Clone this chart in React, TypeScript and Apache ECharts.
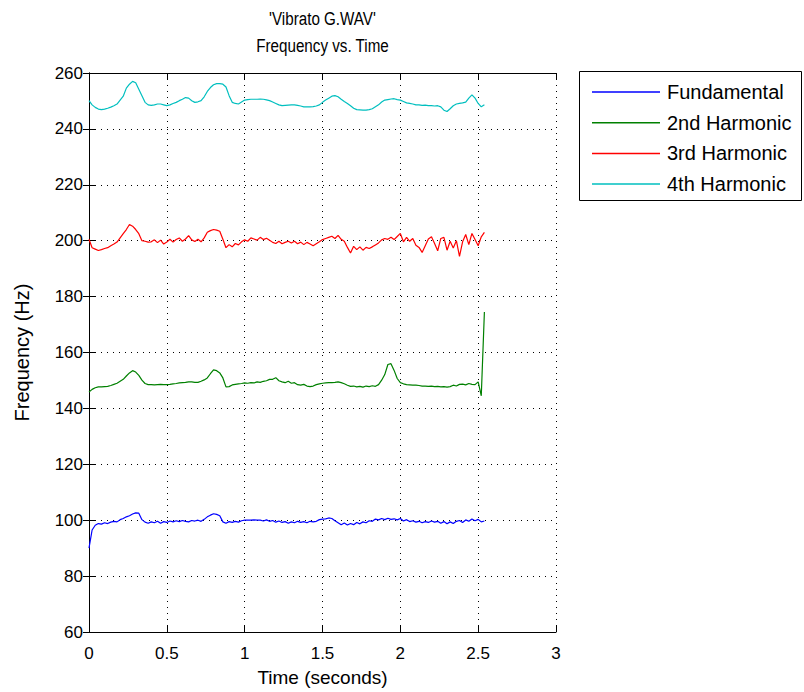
import React, { useEffect, useRef } from "react";
import * as echarts from "echarts";

// Sampling grid: 0 to 2.54 s every 0.02 s (128 samples)
const times: number[] = Array.from({ length: 128 }, (_, i) => Math.round(i * 2) / 100);

const fundamental: number[] = [
  90, 96.5, 98.2, 98.8, 98.6, 99.1, 98.8, 99.3, 99.6, 99.4,
  100.2, 100.6, 101.2, 101.6, 102.2, 102.6, 102.5, 100.2, 99.3, 98.9,
  99.4, 99.1, 99.6, 98.9, 99.5, 99.2, 99.7, 99.4, 99.8, 99.5,
  99.9, 99.6, 99.4, 99.9, 99.7, 100, 99.6, 100.3, 101.2, 101.8,
  102.3, 102.1, 101.6, 99.4, 98.9, 99.5, 99.2, 99.6, 99.3, 99.8,
  100, 100, 100, 100.1, 100, 100, 99.7, 100.1, 99.6, 99.9,
  99.3, 99.7, 99.2, 99.5, 98.9, 99.4, 99.1, 99.6, 99.2, 99.5,
  99.1, 99.6, 99.4, 99.6, 100.2, 100.4, 100.5, 100.8, 100.6, 99.8,
  99.1, 98.4, 99, 98.3, 98.8, 98.4, 99.2, 98.7, 99.4, 99.1,
  99.8, 99.6, 100.4, 100.1, 100.6, 100.2, 100.7, 100.3, 100.5, 100.1,
  100.6, 99.7, 100.2, 99.5, 99.8, 99.3, 99.6, 99.1, 99.5, 99.2,
  99.7, 99.3, 99.6, 98.9, 99.5, 98.7, 99.4, 98.8, 99.6, 99.9,
  99.2, 100.1, 99.6, 100.4, 99.8, 100.3, 99.4, 99.7,
];

const harmonic2: number[] = [
  145.9, 146.8, 147.4, 147.7, 147.7, 147.8, 147.9, 148.2, 148.6, 149,
  149.7, 150.4, 151.6, 152.7, 153.5, 153, 151.8, 150.1, 148.9, 148.5,
  148.5, 148.4, 148.5, 148.6, 148.5, 148.5, 148.6, 148.8, 148.9, 149.1,
  149.2, 149.3, 149.5, 149.5, 149.3, 149.3, 149.7, 150.2, 150.9, 152.4,
  153.8, 153.5, 152.7, 150.9, 147.7, 147.8, 148.4, 148.6, 148.8, 148.9,
  149.1, 149, 149.2, 149.1, 149.5, 149.3, 149.7, 149.9, 150.4, 150.4,
  151, 149.9, 149.5, 149.2, 149.7, 149, 149.2, 148.5, 148.3, 148.6,
  148, 147.8, 148, 148.5, 148.8, 149, 149.1, 149.2, 149.2, 149.3,
  149.5, 149.2, 148.8, 148.3, 147.9, 148, 147.7, 147.9, 147.6, 148,
  147.8, 148.1, 147.9, 148.5, 150.1, 152.1, 155.7, 156, 153.6, 150.7,
  149.2, 148.8, 148.5, 148.4, 148.3, 148.3, 148.2, 148, 148, 147.9,
  148, 147.8, 147.9, 147.7, 147.8, 147.6, 147.8, 148.3, 148, 148.6,
  148.7, 148.4, 148.9, 148.6, 148.5, 149.5, 144.5, 174.5,
];

const harmonic3: number[] = [
  200.5, 197.5, 197, 196.5, 196.8, 197.2, 197.5, 198.2, 198.8, 199.5,
  201, 202.5, 204, 205.8, 205.2, 204, 202.5, 200, 199.8, 199.5,
  199.6, 200.3, 199.3, 200.2, 198.8, 199.5, 200.5, 199.5, 200.4, 201,
  199.8, 200.6, 201.8, 200.3, 199.7, 200.5, 199.6, 201, 203, 203.6,
  204, 203.8, 203.4, 200.5, 197.5, 198.6, 197.8, 199, 198.5, 199.6,
  200.3, 199.8, 201, 200.6, 200.2, 201.2, 200.4, 200.9, 200.2, 199.4,
  199, 199.8, 198.9, 199.4, 199.8, 199.2, 199.8, 198.9, 199.5, 198.6,
  199.4, 198.8, 198.2, 198.9, 199.6, 200.4, 200.8, 201.2, 201.6, 200.8,
  201.9, 200.5, 199.8, 197.6, 195.6, 198, 196.8, 197.8, 196.6, 197.6,
  197.2, 197.8, 198.5, 199.2, 200.3, 200.8, 200.5, 201.2, 200.4, 201.5,
  202.6, 199.6, 201.2, 199.8, 200.8, 198.4, 197.6, 195.8, 198.2, 200.6,
  201.4, 199, 196.4, 200.8, 201.2, 196.6, 199.8, 197.4, 200, 194.4,
  199.6, 202.2, 198.6, 202.6, 200.4, 198.2, 201.4, 203,
];

const harmonic4: number[] = [
  250.1, 248.6, 247.7, 247.1, 246.9, 247.1, 247.4, 247.8, 248.3, 248.9,
  250.3, 251.7, 254.6, 256, 257, 256.5, 254.2, 251.9, 249.5, 248.6,
  248.4, 248.6, 248.9, 248.9, 248.6, 248.3, 248.6, 249.1, 249.5, 250.1,
  250.6, 251.2, 251, 250.1, 249.5, 249.7, 250.1, 251.5, 253.4, 254.8,
  255.8, 256.2, 256.2, 256, 255, 251.9, 249.5, 249.1, 248.9, 249.6,
  250.3, 250.5, 250.6, 250.6, 250.6, 250.7, 250.6, 250.4, 250.1, 249.6,
  249.1, 248.6, 248.3, 248.4, 248.5, 248.6, 248.6, 248.4, 248.2, 247.9,
  247.9, 247.9, 248, 248.2, 248.6, 249.5, 250.3, 251, 251.7, 251.9,
  251.5, 250.6, 249.8, 249.1, 248.3, 247.4, 246.9, 246.8, 246.7, 246.7,
  246.9, 247.2, 247.9, 248.6, 249.6, 250.3, 250.5, 250.7, 250.8, 250.5,
  250.3, 249.8, 249.3, 249.1, 248.9, 248.6, 248.6, 248.4, 248.5, 248.3,
  248.3, 248.2, 248.3, 247.9, 246.7, 246.2, 247.2, 248.3, 248.9, 249.1,
  249.3, 249.6, 251, 252.2, 251, 249.1, 247.9, 248.6,
];

const seriesNames = ["Fundamental", "2nd Harmonic", "3rd Harmonic", "4th Harmonic"];
const seriesValues = [fundamental, harmonic2, harmonic3, harmonic4];
const seriesColors = ["#0000ff", "#008000", "#ff0000", "#00bfbf"];

const titleLines = ["'Vibrato G.WAV'", "Frequency vs. Time"];
const xAxisTitle = "Time (seconds)";
const yAxisTitle = "Frequency (Hz)";

const FONT = "'Liberation Sans', Arial, sans-serif";

export default function App() {
  const ref = useRef<HTMLDivElement>(null);
  useEffect(() => {
    if (!ref.current) return;
    const chart = echarts.init(ref.current, null, { renderer: "svg" });
    const gridLeft = 89;
    const gridTop = 73;
    const gridW = 467;
    const gridH = 561;
    const cx = gridLeft + gridW / 2;
    const tickStyle = { show: true, inside: true, length: 6, lineStyle: { color: "#000", width: 1 } };
    const dotted = { show: true, lineStyle: { color: "#000", width: 1, type: [1, 5] as any } };
    const titleStyle = {
      fontFamily: FONT,
      fontSize: 19,
      fill: "#000",
      align: "center",
      verticalAlign: "middle",
    };
    chart.setOption({
      animation: false,
      backgroundColor: "#fff",
      textStyle: { fontFamily: FONT },
      grid: { left: gridLeft, top: gridTop, width: gridW, height: gridH, show: false },
      graphic: [
        { type: "text", x: cx, y: 18, scaleX: 0.8, style: { ...titleStyle, text: titleLines[0] } },
        { type: "text", x: cx, y: 45, scaleX: 0.8, style: { ...titleStyle, text: titleLines[1] } },
        {
          type: "rect",
          shape: { x: 579.5, y: 71.5, width: 222, height: 129 },
          style: { fill: "none", stroke: "#000", lineWidth: 1 },
          z: 0,
        },
      ],
      legend: {
        data: seriesNames,
        orient: "vertical",
        left: 592,
        top: 82,
        padding: 0,
        icon: "rect",
        itemWidth: 68,
        itemHeight: 1.5,
        itemGap: 10.7,
        textStyle: { fontFamily: FONT, fontSize: 20, lineHeight: 20, color: "#000", padding: [0, 0, 0, 2] },
      },
      xAxis: [
        {
          type: "value",
          min: 0,
          max: 3,
          interval: 0.5,
          position: "bottom",
          name: xAxisTitle,
          nameLocation: "middle",
          nameGap: 36,
          nameTextStyle: { fontFamily: FONT, fontSize: 19, color: "#000" },
          axisLine: { show: true, lineStyle: { color: "#000", width: 1 } },
          axisTick: tickStyle,
          axisLabel: { fontFamily: FONT, fontSize: 17, color: "#000", margin: 13 },
          splitLine: dotted,
        },
        {
          type: "value",
          min: 0,
          max: 3,
          interval: 0.5,
          position: "top",
          axisLine: { show: true, lineStyle: { color: "#000", width: 1 } },
          axisTick: tickStyle,
          axisLabel: { show: false },
          splitLine: { show: false },
        },
      ],
      yAxis: [
        {
          type: "value",
          min: 60,
          max: 260,
          interval: 20,
          position: "left",
          name: yAxisTitle,
          nameLocation: "middle",
          nameGap: 57,
          nameTextStyle: { fontFamily: FONT, fontSize: 20, color: "#000" },
          axisLine: { show: true, lineStyle: { color: "#000", width: 1 } },
          axisTick: tickStyle,
          axisLabel: { fontFamily: FONT, fontSize: 17, color: "#000", margin: 6 },
          splitLine: dotted,
        },
        {
          type: "value",
          min: 60,
          max: 260,
          interval: 20,
          position: "right",
          axisLine: { show: true, lineStyle: { color: "#000", width: 1 } },
          axisTick: tickStyle,
          axisLabel: { show: false },
          splitLine: { show: false },
        },
      ],
      series: seriesNames.map((name, k) => ({
        name,
        type: "line",
        xAxisIndex: 0,
        yAxisIndex: 0,
        symbol: "none",
        color: seriesColors[k],
        lineStyle: { color: seriesColors[k], width: 1.2 },
        data: times.map((t, i) => [t, seriesValues[k][i]]),
      })),
    });
    return () => chart.dispose();
  }, []);
  return (
    <div
      ref={ref}
      style={{ position: "absolute", left: 0, top: 0, width: 804, height: 692 }}
    />
  );
}
